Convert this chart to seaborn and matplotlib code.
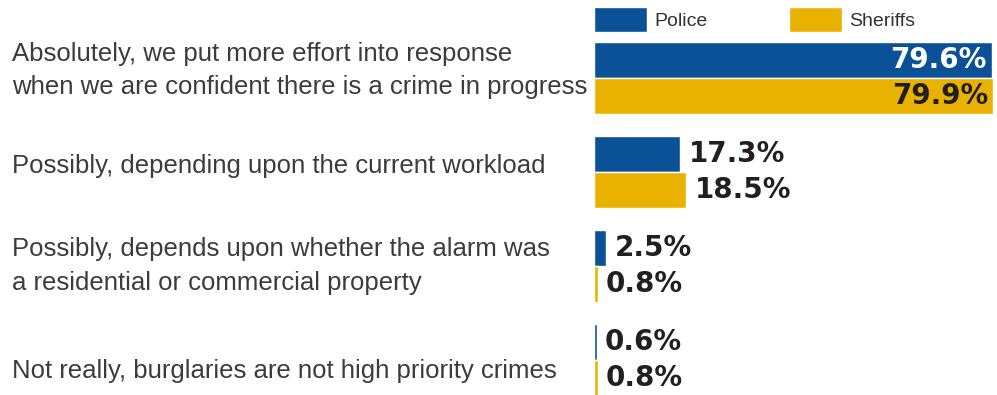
import matplotlib
matplotlib.use("Agg")
import matplotlib.pyplot as plt
import matplotlib.transforms as mtransforms
import seaborn as sns
import pandas as pd

# Survey answers and the share of agencies giving each one
answers = [
    "Absolutely, we put more effort into response\nwhen we are confident there is a crime in progress",
    "Possibly, depending upon the current workload",
    "Possibly, depends upon whether the alarm was\na residential or commercial property",
    "Not really, burglaries are not high priority crimes",
]
agencies = ["Police", "Sheriffs"]
police = [79.6, 17.3, 2.5, 0.6]
sheriffs = [79.9, 18.5, 0.8, 0.8]

colors = {"Police": "#0b5197", "Sheriffs": "#e9b200"}
label_font = ["Liberation Sans Narrow", "Liberation Sans", "DejaVu Sans"]

df = pd.DataFrame({
    "answer": answers * 2,
    "agency": [agencies[0]] * len(answers) + [agencies[1]] * len(answers),
    "pct": police + sheriffs,
})

sns.set_theme(style="white")
plt.rcParams["font.family"] = ["DejaVu Sans"]

W, H = 997, 395
fig = plt.figure(figsize=(W / 100, H / 100), dpi=100)
ax = fig.add_axes([594 / W, 0, (W - 594) / W, 1 - 31 / H])

sns.barplot(data=df, x="pct", y="answer", hue="agency", orient="h",
            palette=colors, width=0.77, saturation=1, dodge=True, ax=ax,
            order=answers, hue_order=agencies)

ax.set_xlim(0, 80.7)
ax.set_ylim(3.372, -0.5)
ax.set_xlabel("")
ax.set_ylabel("")
ax.set_xticks([])
ax.set_yticks([])
sns.despine(ax=ax, left=True, bottom=True)

# answer text on the left, placed against each bar group
text_tr = mtransforms.blended_transform_factory(fig.transFigure, ax.transData)
nudge = [-0.08, -0.06, 0.0, 0.12]
for i, (ans, dy) in enumerate(zip(answers, nudge)):
    ax.text(12 / W, i + dy, ans, transform=text_tr, ha="left", va="center",
            family=label_font, fontsize=18.5, color="#3c3c3c",
            linespacing=1.5)

# value labels
for cont, name in zip(ax.containers, agencies):
    vals = police if name == "Police" else sheriffs
    for bar, v in zip(cont, vals):
        y = bar.get_y() + bar.get_height() / 2
        txt = f"{v:.1f}%"
        if v > 50:
            ax.text(bar.get_width() - 1.0, y, txt, ha="right", va="center",
                    fontsize=20, fontweight="bold",
                    color="white" if name == "Police" else "#231f20")
        else:
            ax.text(bar.get_width() + 1.6, y, txt, ha="left", va="center",
                    fontsize=20, fontweight="bold", color="#231f20")

# legend across the top
handles, labels = ax.get_legend_handles_labels()
ax.legend(handles, labels, loc="upper left", bbox_to_anchor=(583 / W, 1.01),
          bbox_transform=fig.transFigure, ncol=2, frameon=False,
          handlelength=2.75, handleheight=1.6,
          handletextpad=0.35, columnspacing=4.2, borderaxespad=0.15,
          prop={"family": label_font, "size": 14})
for t in ax.get_legend().get_texts():
    t.set_color("#333333")

fig.savefig("out.png", dpi=100)
